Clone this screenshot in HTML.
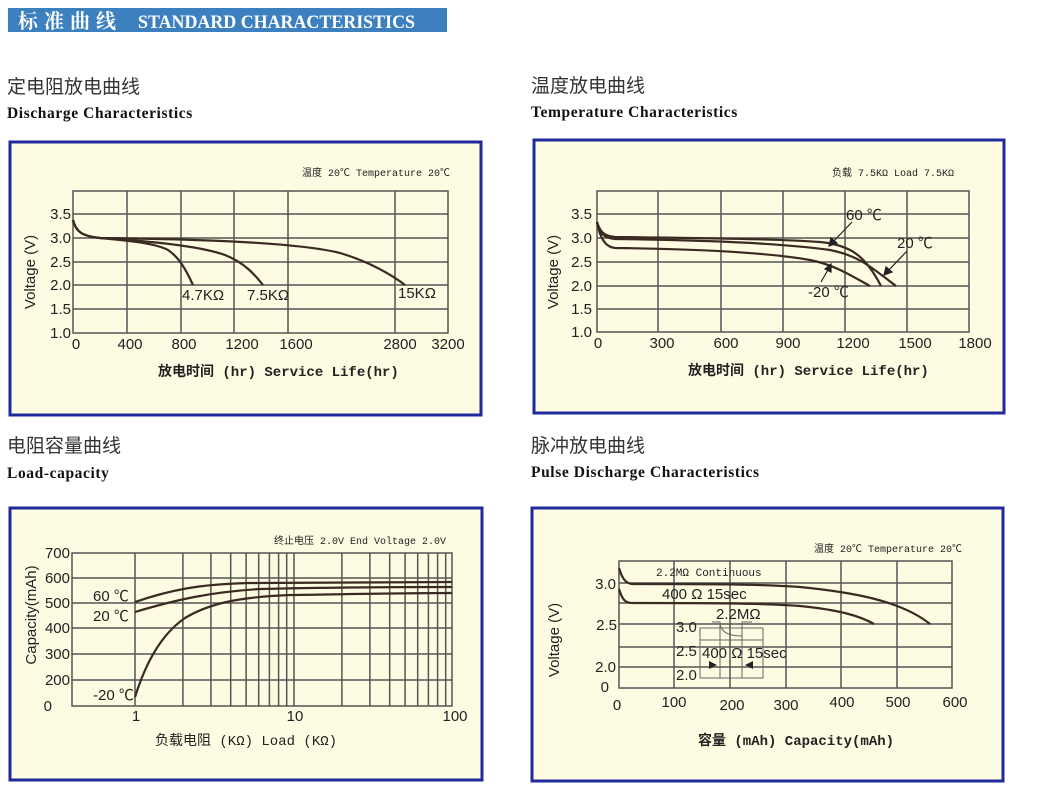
<!DOCTYPE html>
<html><head><meta charset="utf-8"><style>
html,body{margin:0;padding:0;background:#fff;}
svg{display:block}
.t{font-family:"Liberation Sans","Noto Sans CJK SC",sans-serif;font-size:15px;fill:#222}
.m{font-family:"Liberation Mono","Noto Sans CJK SC",monospace;fill:#222}
.g{stroke:#555;stroke-width:1.5;fill:none}
.c{stroke:#3a2a22;stroke-width:2.2;fill:none}
.box{fill:#fdfbe2;stroke:#1f2a9c;stroke-width:3}
.h{font-family:"Liberation Serif","Noto Serif CJK SC",serif;font-weight:bold;font-size:15.5px;fill:#111;letter-spacing:0.6px}
.s{font-family:"Liberation Sans","Noto Sans CJK SC",sans-serif;font-size:19px;fill:#333}
</style></head><body>
<svg width="1039" height="801" viewBox="0 0 1039 801" xmlns="http://www.w3.org/2000/svg">
<rect width="1039" height="801" fill="#fff"/>
<rect x="8" y="8" width="439" height="24" fill="#3d80bf"/>
<text x="18" y="28" font-family="'Noto Serif CJK SC',serif" font-weight="bold" font-size="20" fill="#fff" letter-spacing="6">标准曲线</text>
<text x="138" y="28" font-family="'Liberation Serif',serif" font-weight="bold" font-size="19" fill="#fff" textLength="277" lengthAdjust="spacingAndGlyphs">STANDARD CHARACTERISTICS</text>

<text x="7" y="93" class="s">定电阻放电曲线</text>
<text x="7" y="118" class="h">Discharge Characteristics</text>
<text x="531" y="92" class="s">温度放电曲线</text>
<text x="531" y="117" class="h">Temperature Characteristics</text>
<text x="7" y="452" class="s">电阻容量曲线</text>
<text x="7" y="478" class="h">Load-capacity</text>
<text x="531" y="452" class="s">脉冲放电曲线</text>
<text x="531" y="477" class="h">Pulse Discharge Characteristics</text>

<!-- Chart 1 -->
<rect x="10" y="142" width="471" height="273" class="box"/>
<text x="302" y="176" class="m" font-size="10">温度 20℃  Temperature 20℃</text>
<rect x="73" y="191" width="375" height="142" class="g"/>
<g class="g">
<line x1="73" y1="214" x2="448" y2="214"/><line x1="73" y1="238" x2="448" y2="238"/><line x1="73" y1="262" x2="448" y2="262"/><line x1="73" y1="285" x2="448" y2="285"/><line x1="73" y1="309" x2="448" y2="309"/>
<line x1="127" y1="191" x2="127" y2="333"/><line x1="181" y1="191" x2="181" y2="333"/><line x1="234" y1="191" x2="234" y2="333"/><line x1="288" y1="191" x2="288" y2="333"/><line x1="395" y1="191" x2="395" y2="333"/>
</g>
<g class="t" text-anchor="end"><text x="71" y="219">3.5</text><text x="71" y="243">3.0</text><text x="71" y="267">2.5</text><text x="71" y="290">2.0</text><text x="71" y="314">1.5</text><text x="71" y="338">1.0</text></g>
<g class="t" text-anchor="middle"><text x="76" y="349">0</text><text x="130" y="349">400</text><text x="184" y="349">800</text><text x="242" y="349">1200</text><text x="296" y="349">1600</text><text x="400" y="349">2800</text><text x="448" y="349">3200</text></g>
<text transform="translate(35,272) rotate(-90)" class="t" text-anchor="middle" font-size="14">Voltage (V)</text>
<text x="158" y="376" class="m" font-size="14" font-weight="bold">放电时间 (hr) Service Life(hr)</text>
<path class="c" d="M73,220 C76,232 82,236 100,238 C130,241 155,243 168,250 C180,258 187,272 193,285"/>
<path class="c" d="M73,220 C76,232 82,236 100,238 C150,241 200,246 225,255 C245,263 255,275 263,285"/>
<path class="c" d="M73,220 C76,232 82,236 100,238 C200,239 300,243 340,253 C370,262 392,275 405,285"/>
<text x="182" y="300" class="t" font-size="13">4.7KΩ</text>
<text x="247" y="300" class="t" font-size="13">7.5KΩ</text>
<text x="398" y="298" class="t" font-size="13">15KΩ</text>

<!-- Chart 2 -->
<rect x="534" y="140" width="470" height="273" class="box"/>
<text x="832" y="176" class="m" font-size="10">负载 7.5KΩ  Load 7.5KΩ</text>
<rect x="597" y="191" width="372" height="141" class="g"/>
<g class="g">
<line x1="597" y1="214" x2="969" y2="214"/><line x1="597" y1="238" x2="969" y2="238"/><line x1="597" y1="262" x2="969" y2="262"/><line x1="597" y1="286" x2="969" y2="286"/><line x1="597" y1="309" x2="969" y2="309"/>
<line x1="658" y1="191" x2="658" y2="332"/><line x1="721" y1="191" x2="721" y2="332"/><line x1="783" y1="191" x2="783" y2="332"/><line x1="845" y1="191" x2="845" y2="332"/><line x1="907" y1="191" x2="907" y2="332"/>
</g>
<g class="t" text-anchor="end"><text x="592" y="219">3.5</text><text x="592" y="243">3.0</text><text x="592" y="267">2.5</text><text x="592" y="291">2.0</text><text x="592" y="314">1.5</text><text x="592" y="337">1.0</text></g>
<g class="t" text-anchor="middle"><text x="598" y="348">0</text><text x="662" y="348">300</text><text x="726" y="348">600</text><text x="788" y="348">900</text><text x="853" y="348">1200</text><text x="915" y="348">1500</text><text x="975" y="348">1800</text></g>
<text transform="translate(558,272) rotate(-90)" class="t" text-anchor="middle" font-size="14">Voltage (V)</text>
<text x="688" y="375" class="m" font-size="14" font-weight="bold">放电时间 (hr) Service Life(hr)</text>
<path class="c" d="M597,222 C600,232 604,236 615,237 C700,238 780,239 820,242 C850,245 865,255 881,286"/>
<path class="c" d="M597,222 C600,234 604,238 615,239 C700,240 780,243 830,250 C860,256 872,268 896,286"/>
<path class="c" d="M597,222 C600,238 605,247 615,248 C700,249 770,253 810,260 C835,265 850,275 870,286"/>
<text x="846" y="220" class="t" font-size="13">60 ℃</text>
<text x="897" y="248" class="t" font-size="13">20 ℃</text>
<text x="808" y="297" class="t" font-size="13">-20 ℃</text>
<g stroke="#222" stroke-width="1.2" fill="#222">
<line x1="852" y1="222" x2="832" y2="243"/><polygon points="829,246 831,238 837,243"/>
<line x1="907" y1="251" x2="887" y2="272"/><polygon points="884,275 886,267 892,272"/>
<line x1="821" y1="282" x2="829" y2="268"/><polygon points="831,264 831,272 825,269"/>
</g>

<!-- Chart 3 -->
<rect x="10" y="508" width="472" height="272" class="box"/>
<text x="274" y="544" class="m" font-size="10">终止电压 2.0V End Voltage 2.0V</text>
<rect x="72" y="553" width="380" height="153" class="g"/>
<g class="g">
<line x1="72" y1="578" x2="452" y2="578"/><line x1="72" y1="603" x2="452" y2="603"/><line x1="72" y1="628" x2="452" y2="628"/><line x1="72" y1="654" x2="452" y2="654"/><line x1="72" y1="680" x2="452" y2="680"/>
<line x1="135" y1="553" x2="135" y2="706"/><line x1="182.9" y1="553" x2="182.9" y2="706"/><line x1="210.9" y1="553" x2="210.9" y2="706"/><line x1="230.7" y1="553" x2="230.7" y2="706"/><line x1="246.1" y1="553" x2="246.1" y2="706"/><line x1="258.7" y1="553" x2="258.7" y2="706"/><line x1="269.4" y1="553" x2="269.4" y2="706"/><line x1="278.6" y1="553" x2="278.6" y2="706"/><line x1="286.7" y1="553" x2="286.7" y2="706"/><line x1="294" y1="553" x2="294" y2="706"/>
<line x1="341.9" y1="553" x2="341.9" y2="706"/><line x1="369.9" y1="553" x2="369.9" y2="706"/><line x1="389.7" y1="553" x2="389.7" y2="706"/><line x1="405.1" y1="553" x2="405.1" y2="706"/><line x1="417.7" y1="553" x2="417.7" y2="706"/><line x1="428.4" y1="553" x2="428.4" y2="706"/><line x1="437.6" y1="553" x2="437.6" y2="706"/><line x1="445.7" y1="553" x2="445.7" y2="706"/>
</g>
<g class="t" text-anchor="end"><text x="70" y="558">700</text><text x="70" y="583">600</text><text x="70" y="608">500</text><text x="70" y="633">400</text><text x="70" y="659">300</text><text x="70" y="685">200</text><text x="52" y="711">0</text></g>
<g class="t" text-anchor="middle"><text x="136" y="721">1</text><text x="295" y="721">10</text><text x="455" y="721">100</text></g>
<text transform="translate(36,615) rotate(-90)" class="t" text-anchor="middle" font-size="14">Capacity(mAh)</text>
<text x="155" y="745" class="m" font-size="14">负载电阻 (KΩ) Load (KΩ)</text>
<path class="c" d="M135,602 C170,590 200,584 250,583 C330,582 400,582 452,582"/>
<path class="c" d="M135,612 C175,600 210,592 260,589 C340,587 400,587 452,587"/>
<path class="c" d="M135,697 C145,665 160,635 185,618 C210,603 240,597 290,595 C360,594 410,593 452,593"/>
<text x="93" y="601" class="t" font-size="13">60 ℃</text>
<text x="93" y="621" class="t" font-size="13">20 ℃</text>
<text x="93" y="700" class="t" font-size="13">-20 ℃</text>

<!-- Chart 4 -->
<rect x="532" y="508" width="471" height="273" class="box"/>
<text x="814" y="552" class="m" font-size="10">温度 20℃ Temperature 20℃</text>
<rect x="619" y="561" width="333" height="127" class="g"/>
<g class="g">
<line x1="619" y1="583" x2="952" y2="583"/><line x1="619" y1="603" x2="952" y2="603"/><line x1="619" y1="624" x2="952" y2="624"/><line x1="619" y1="647" x2="952" y2="647"/><line x1="619" y1="667" x2="952" y2="667"/>
<line x1="674" y1="561" x2="674" y2="688"/><line x1="730" y1="561" x2="730" y2="688"/><line x1="786" y1="561" x2="786" y2="688"/><line x1="841" y1="561" x2="841" y2="688"/><line x1="897" y1="561" x2="897" y2="688"/>
</g>
<g class="t" text-anchor="end"><text x="616" y="589">3.0</text><text x="617" y="630">2.5</text><text x="616" y="672">2.0</text><text x="609" y="692">0</text></g>
<g class="t" text-anchor="middle"><text x="617" y="710">0</text><text x="674" y="707">100</text><text x="732" y="710">200</text><text x="786" y="710">300</text><text x="842" y="707">400</text><text x="898" y="707">500</text><text x="955" y="707">600</text></g>
<text transform="translate(559,640) rotate(-90)" class="t" text-anchor="middle" font-size="14">Voltage (V)</text>
<text x="698" y="745" class="m" font-size="14" font-weight="bold">容量 (mAh) Capacity(mAh)</text>
<path class="c" d="M619,568 C622,578 625,583 632,584 C700,584 760,584 800,587 C850,592 900,600 930,624"/>
<path class="c" d="M619,589 C622,599 625,603 632,603 C700,603 760,603 800,606 C840,610 860,616 874,624"/>
<text x="656" y="576" class="m" font-size="11">2.2MΩ Continuous</text>
<text x="662" y="599" class="t" font-size="12">400 Ω 15sec</text>
<g stroke="#666" stroke-width="1" fill="none">
<rect x="700" y="628" width="63" height="50"/>
<line x1="700" y1="640" x2="763" y2="640"/><line x1="720" y1="622" x2="720" y2="678"/><line x1="742" y1="622" x2="742" y2="678"/>
<path d="M712,622 H720 C720,630 725,636 742,636 V622 H752"/>
</g>
<text x="716" y="619" class="t" font-size="11">2.2MΩ</text>
<g class="t" font-size="10"><text x="676" y="632">3.0</text><text x="676" y="656">2.5</text><text x="676" y="680">2.0</text></g>
<text x="702" y="658" class="t" font-size="11">400 Ω 15sec</text>
<g fill="#222"><polygon points="717,665 709,661 709,669"/><polygon points="745,665 753,661 753,669"/></g>
</svg>
</body></html>
